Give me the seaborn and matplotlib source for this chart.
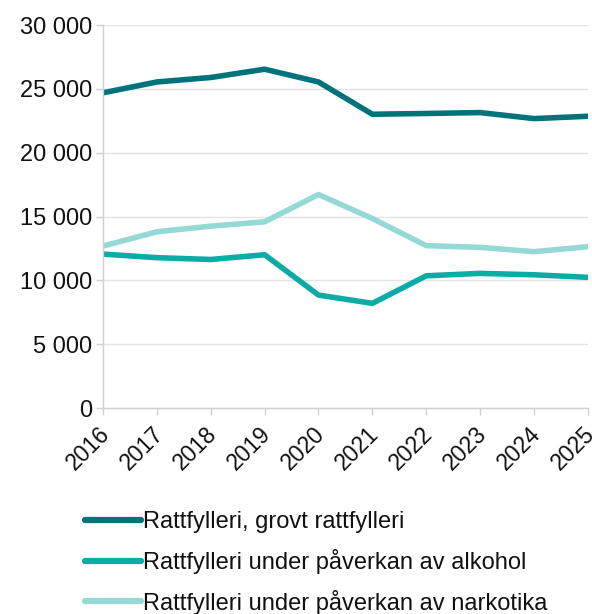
import matplotlib
matplotlib.use("Agg")
import matplotlib.pyplot as plt
import matplotlib.ticker as mticker
from matplotlib.transforms import ScaledTranslation
import seaborn as sns
import pandas as pd

years = [2016, 2017, 2018, 2019, 2020, 2021, 2022, 2023, 2024, 2025]
grovt = [24700, 25550, 25900, 26550, 25550, 23020, 23080, 23150, 22680, 22860]
alkohol = [12060, 11780, 11640, 12010, 8850, 8200, 10360, 10550, 10440, 10240]
narkotika = [12690, 13810, 14250, 14590, 16730, 14850, 12720, 12590, 12250, 12640]
series_names = ["Rattfylleri, grovt rattfylleri",
                "Rattfylleri under påverkan av alkohol",
                "Rattfylleri under påverkan av narkotika"]
colors = ["#00737A", "#0BABA6", "#95D9D6"]

df = pd.DataFrame({
    "year": years * 3,
    "value": grovt + alkohol + narkotika,
    "series": [series_names[0]] * 10 + [series_names[1]] * 10 + [series_names[2]] * 10,
})

sns.set_theme(style="white")
plt.rcParams["font.family"] = ["Liberation Sans", "DejaVu Sans"]

fig = plt.figure(figsize=(5.92, 6.14), dpi=100)
ax = fig.add_axes([0.174, 0.3355, 0.819, 0.6235])

sns.lineplot(data=df, x="year", y="value", hue="series", palette=colors,
             linewidth=4, ax=ax, legend=True)

ax.set_xlim(2016, 2025)
ax.set_ylim(0, 30000)
ax.set_yticks(range(0, 30001, 5000))
ax.yaxis.set_major_formatter(mticker.FuncFormatter(lambda v, p: f"{int(v):,}".replace(",", " ")))
ax.set_xticks(years)
ax.set_xticklabels([str(y) for y in years], rotation=45, ha="right", va="center",
                   rotation_mode="anchor")
ax.set_xlabel("")
ax.set_ylabel("")
ax.grid(axis="y", color="#E3E3E3", linewidth=1)
ax.set_axisbelow(True)
for s in ["top", "right"]:
    ax.spines[s].set_visible(False)
for s in ["left", "bottom"]:
    ax.spines[s].set_color("#D0D0D0")
    ax.spines[s].set_linewidth(1)
ax.tick_params(axis="both", which="major", labelsize=17, labelcolor="#111111",
               length=5, width=1, direction="out", color="#D0D0D0", pad=3,
               left=True, bottom=True)
ax.tick_params(axis="x", pad=11, labelsize=16.5)
offset = ScaledTranslation(0.03, 0, fig.dpi_scale_trans)
for lab in ax.get_xticklabels():
    lab.set_transform(lab.get_transform() + offset)

handles, labels = ax.get_legend_handles_labels()
for h in handles:
    h.set_solid_capstyle("round")
    h.set_linewidth(4.5)
leg = ax.legend(handles, labels, loc="upper left", bbox_to_anchor=(-0.037, -0.27),
                frameon=False, fontsize=17, handlelength=2.35, handletextpad=0.12,
                labelspacing=0.66, borderaxespad=0, borderpad=0)
for t in leg.get_texts():
    t.set_color("#111111")

fig.savefig("out.png", dpi=100)
